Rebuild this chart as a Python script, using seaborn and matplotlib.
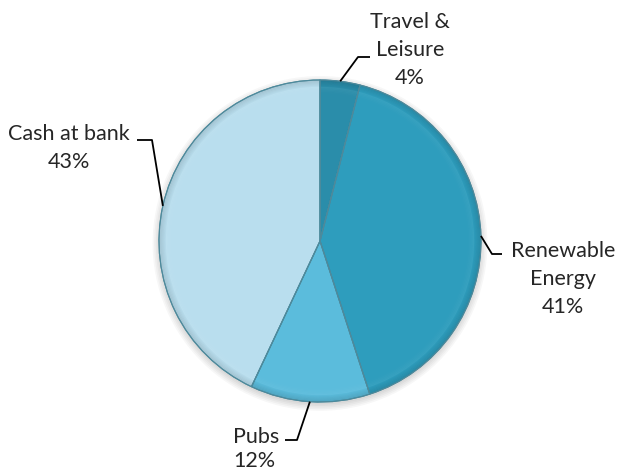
import numpy as np
import matplotlib
matplotlib.use("Agg")
import matplotlib.pyplot as plt
from matplotlib.patches import Wedge, Circle
import seaborn as sns

sns.set_theme(style="white")
plt.rcParams["font.family"] = ["Lato", "DejaVu Sans"]

# Portfolio allocation
labels = ["Travel &\nLeisure", "Renewable\nEnergy", "Pubs", "Cash at bank"]
values = [4, 41, 12, 43]
colors = ["#2a8daa", "#2e9dbd", "#5bbcdc", "#b9deee"]

W, H, DPI = 624, 471, 100
CX, CY, R = 320, 241, 161  # pie centre and radius in pixels


def px(x, y):
    """Pixel position (from top-left) to data coordinates."""
    return (x - CX) / R, (CY - y) / R


fig = plt.figure(figsize=(W / DPI, H / DPI), dpi=DPI)
ax = fig.add_axes([0, 0, 1, 1])

# soft drop shadow under the pie
for i in range(5):
    ax.add_patch(Circle((0.0, -0.015), 1.0 + 0.01 * i, color="black",
                        alpha=0.03, lw=0, zorder=0))

wedges, _ = ax.pie(values, colors=colors, startangle=90, counterclock=False,
                   radius=1, center=(0, 0),
                   wedgeprops=dict(edgecolor="#4d8a9c", linewidth=0.8))

# bevel: dark rim fading inward, then a faint lighter band inside it
for w, c in zip(wedges, colors):
    base = np.array(matplotlib.colors.to_rgb(c))
    dark = base * 0.75
    light = np.clip(base + (1 - base) * 0.2, 0, 1)
    steps = 6
    for k in range(steps):
        r_out = 1.0 - k * 0.007
        a = 0.5 * (1 - k / steps)
        ax.add_patch(Wedge((0, 0), r_out, w.theta1, w.theta2, width=0.007,
                           facecolor=dark, alpha=a, lw=0, zorder=3))
    for k in range(5):
        r_out = 0.958 - k * 0.008
        a = 0.22 * (1 - k / 5)
        ax.add_patch(Wedge((0, 0), r_out, w.theta1, w.theta2, width=0.008,
                           facecolor=light, alpha=a, lw=0, zorder=3))
    # outline on top
    ax.add_patch(Wedge((0, 0), 1.0, w.theta1, w.theta2, fill=False,
                       edgecolor="#4d8a9c", lw=0.8, zorder=4))

ax.set_xlim(px(0, 0)[0], px(W, 0)[0])
ax.set_ylim(px(0, H)[1], px(0, 0)[1])
ax.set_aspect("auto")
ax.axis("off")

# leader lines: from slice mid-edge to an elbow, then horizontal
leaders = [
    # (elbow pixel, end pixel, text pixel, alignment, line spacing)
    ((358, 57), (370, 57), (410, 50), "center", 1.5),
    ((492, 254), (502, 254), (563, 279), "center", 1.5),
    ((297, 440), (285, 440), (233, 449), "left", 1.3),
    ((152, 140), (137, 140), (69, 148), "center", 1.5),
]
pct = [f"{v}%" for v in values]
for w, lab, p, (elbow, end, tpos, ha, ls) in zip(wedges, labels, pct, leaders):
    mid = np.deg2rad((w.theta1 + w.theta2) / 2)
    x0, y0 = np.cos(mid), np.sin(mid)
    ex, ey = px(*elbow)
    nx, ny = px(*end)
    ax.plot([x0, ex, nx], [y0, ey, ny], color="black", lw=1.3,
            solid_capstyle="butt", zorder=5)
    tx, ty = px(*tpos)
    ax.text(tx, ty, f"{lab}\n{p}", ha=ha, va="center", fontsize=15.5,
            color="#262626", linespacing=ls, multialignment=ha)

fig.savefig("out.png", dpi=DPI)
